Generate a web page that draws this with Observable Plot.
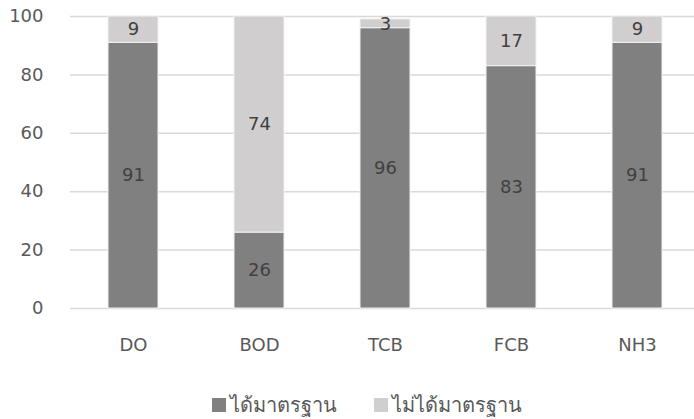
<!DOCTYPE html>
<html>
<head>
<meta charset="utf-8">
<script src="https://cdn.jsdelivr.net/npm/d3@7"></script>
<script src="https://cdn.jsdelivr.net/npm/@observablehq/plot@0.6"></script>
<style>
  html, body { margin: 0; padding: 0; background: #fff; }
  body { width: 694px; height: 419px; overflow: hidden; font-family: "DejaVu Sans", "Open Sans", sans-serif; }
  #chart svg text { font-size: 18px; }
  #legend { display: flex; justify-content: flex-start; align-items: center; gap: 37px; height: 30px; margin-top: 20px; padding-left: 212px; font-size: 20px; color: #595959; }
  .item { display: flex; align-items: center; gap: 4px; }
  .sw { width: 14px; height: 14px; display: inline-block; }
</style>
</head>
<body>
<div id="chart"></div>
<div id="legend"></div>
<script>
// Water quality parameters and the share (%) of samples meeting / not meeting the standard
const categories = ["DO", "BOD", "TCB", "FCB", "NH3"];
const meetsStandard = [91, 26, 96, 83, 91];
const failsStandard = [9, 74, 3, 17, 9];
const seriesNames = ["ได้มาตรฐาน", "ไม่ได้มาตรฐาน"];
const seriesColors = ["#808080", "#d0cece"];
const yTicks = [0, 20, 40, 60, 80, 100];

const rows = [];
categories.forEach((c, i) => {
  rows.push({category: c, series: seriesNames[0], value: meetsStandard[i]});
  rows.push({category: c, series: seriesNames[1], value: failsStandard[i]});
});

const chart = Plot.plot({
  width: 694,
  height: 370,
  marginTop: 16,
  marginBottom: 62,
  marginLeft: 70,
  marginRight: 0,
  style: {fontFamily: "'DejaVu Sans', 'Open Sans', sans-serif", fontSize: "18px", color: "#595959", background: "#fff"},
  x: {domain: categories, range: [70, 700], paddingInner: 0.6, paddingOuter: 0.3, label: null},
  y: {domain: [0, 100], label: null},
  color: {domain: seriesNames, range: seriesColors},
  marks: [
    Plot.gridY(yTicks, {stroke: "#d9d9d9", strokeOpacity: 1, strokeWidth: 1.5}),
    Plot.barY(rows, Plot.stackY({
      x: "category", y: "value", fill: "series", order: seriesNames,
      stroke: "#f2f2f2", strokeWidth: 1
    })),
    Plot.text(rows, Plot.stackY({
      x: "category", y: "value", z: "series", order: seriesNames,
      text: d => String(d.value), fill: "#404040", fontSize: 18
    })),
    Plot.axisY(yTicks, {tickSize: 0, tickPadding: 27, fill: "#595959", fontSize: 18, label: null}),
    Plot.axisX({tickSize: 0, tickPadding: 30, fill: "#595959", fontSize: 18, label: null})
  ]
});
document.getElementById("chart").appendChild(chart);

const legend = document.getElementById("legend");
seriesNames.forEach((name, i) => {
  const item = document.createElement("span");
  item.className = "item";
  const sw = document.createElement("span");
  sw.className = "sw";
  sw.style.background = seriesColors[i];
  const label = document.createElement("span");
  label.textContent = name;
  item.appendChild(sw);
  item.appendChild(label);
  legend.appendChild(item);
});
</script>
</body>
</html>
